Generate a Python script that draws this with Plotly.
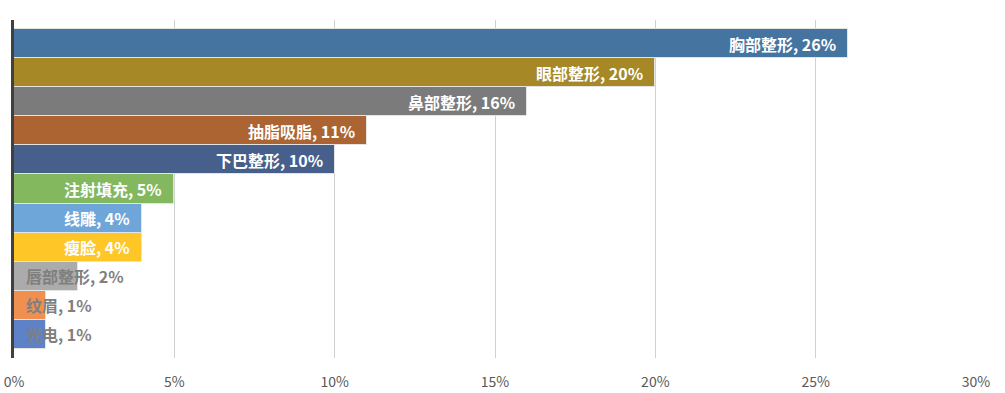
import plotly.graph_objects as go

categories = ["胸部整形", "眼部整形", "鼻部整形", "抽脂吸脂", "下巴整形", "注射填充",
              "线雕", "瘦脸", "唇部整形", "纹眉", "光电"]
values = [26, 20, 16, 11, 10, 5, 4, 4, 2, 1, 1]
colors = ["#44749F", "#A68826", "#7B7B7B", "#AB6432", "#465F8B", "#83B85F",
          "#6FA6DA", "#FFC628", "#ABABAB", "#F09050", "#5E82C8"]
x_ticks = [0, 5, 10, 15, 20, 25, 30]
x_tick_labels = ["0%", "5%", "10%", "15%", "20%", "25%", "30%"]

FONT = "Noto Sans CJK SC"

fig = go.Figure()
fig.add_trace(go.Bar(
    x=values, y=categories, orientation="h",
    marker=dict(color=colors, line=dict(color="#E4E4E4", width=1)),
    hoverinfo="skip", showlegend=False,
))

annotations = []
for c, v in zip(categories, values):
    label = f"{c}, {v}%"
    if v >= 3:
        annotations.append(dict(x=v, y=c, xref="x", yref="y", text=f"<b>{label}</b>",
                                xanchor="right", xshift=-10, showarrow=False,
                                font=dict(family=FONT, size=16, color="white")))
    else:
        annotations.append(dict(x=0, y=c, xref="x", yref="y", text=f"<b>{label}</b>",
                                xanchor="left", xshift=10, showarrow=False,
                                font=dict(family=FONT, size=16, color="#7F7F7F")))

pad = 0.31
fig.update_layout(
    width=1005, height=393,
    margin=dict(l=14, r=29, t=20, b=35),
    paper_bgcolor="white", plot_bgcolor="white",
    bargap=0,
    annotations=annotations,
    font=dict(family=FONT),
    xaxis=dict(range=[0, 30], tickvals=x_ticks, ticktext=x_tick_labels,
               showgrid=True, gridcolor="#D0D0D0", gridwidth=1,
               zeroline=False, showline=False, ticks="", automargin=False,
               ticklabelstandoff=14,
               tickfont=dict(family=FONT, size=14, color="#595959"),
               fixedrange=True),
    yaxis=dict(categoryorder="array", categoryarray=categories,
               range=[len(categories) - 0.5 + pad, -0.5 - pad],
               showticklabels=False, ticks="", showgrid=False, automargin=False,
               showline=True, linecolor="#404040", linewidth=3,
               zeroline=False, fixedrange=True),
)

fig.write_html("out.html", config={"displayModeBar": False},
               post_script="document.body.style.margin='0';document.body.style.overflow='hidden';")
